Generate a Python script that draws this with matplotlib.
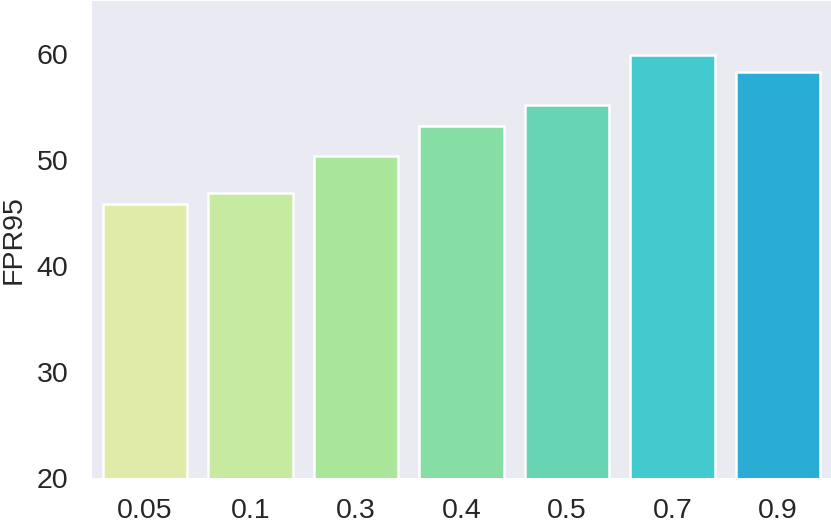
import matplotlib
matplotlib.use("Agg")
import matplotlib.pyplot as plt
import seaborn as sns

# ratio values on the x axis and the FPR95 score of each
ratios = ["0.05", "0.1", "0.3", "0.4", "0.5", "0.7", "0.9"]
fpr95 = [45.9, 46.9, 50.4, 53.2, 55.2, 59.9, 58.3]
bar_colors = ["#E0EBA8", "#C5EAA0", "#A9E69A", "#87DEA4",
              "#67D4B4", "#42CACF", "#29ADD5"]

sns.set_style("dark")
plt.rcParams['font.family'] = ['Liberation Sans', 'DejaVu Sans']

fig = plt.figure(figsize=(8.31, 5.28), dpi=100)
ax = fig.add_axes([0.1107, 0.0938, 0.8893, 0.904])

sns.barplot(x=ratios, y=fpr95, hue=ratios, palette=bar_colors, saturation=1,
            edgecolor="white", linewidth=1.8, width=0.8, legend=False, ax=ax)

ax.set_ylim(20, 65)
ax.set_yticks([20, 30, 40, 50, 60])
ax.set_ylabel("FPR95", fontsize=20.5, labelpad=7.5)
ax.tick_params(axis="y", labelsize=20.5, length=0, pad=17, colors="#262626")
ax.tick_params(axis="x", labelsize=20.5, length=0, pad=14, colors="#262626")
for s in ax.spines.values():
    s.set_visible(False)

fig.savefig("out.png", dpi=100)
